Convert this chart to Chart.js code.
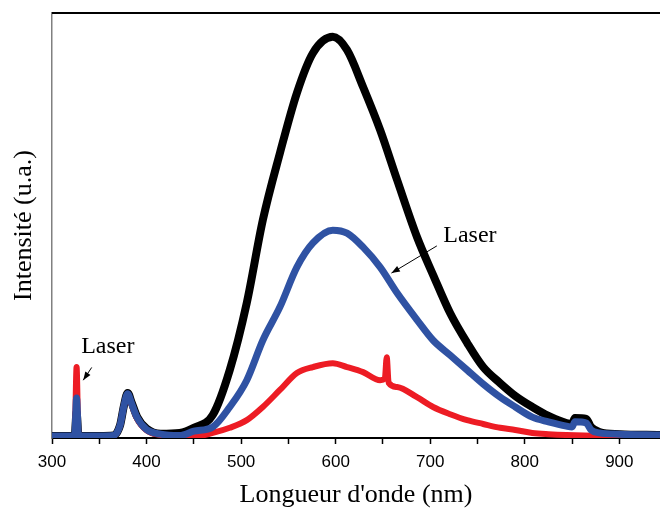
<!DOCTYPE html>
<html>
<head>
<meta charset="utf-8">
<script src="https://cdn.jsdelivr.net/npm/chart.js@4.4.0/dist/chart.umd.min.js"></script>
<style>
  html, body { margin: 0; padding: 0; background: #fff; }
  #wrap { width: 660px; height: 514px; position: relative; }
</style>
</head>
<body>
<div id="wrap"><canvas id="pl"></canvas></div>
<script>
// Spectra: wavelength (nm) / intensity (a.u.)
const blackNm  = [300, 322, 324, 326, 328, 350, 365, 372, 376, 380, 384, 390, 400, 415, 435, 450, 470, 488, 506, 523, 541, 559, 576, 597, 612, 629, 647, 665, 686, 703, 721, 739, 756, 774, 790, 808, 825, 844, 850, 853, 865, 870, 879, 900, 943];
const blackVal = [0.5, 0.5, 0.5, 6, 0.5, 0.5, 0.6, 3, 7.5, 10.6, 8.5, 5, 2.2, 1, 1.2, 2.4, 5.4, 16, 31.8, 51.3, 67, 81.2, 90.6, 94.4, 91.3, 82.6, 72.5, 60.7, 47.3, 38.4, 29.4, 22.4, 16.7, 12.9, 9.9, 7.3, 5.2, 3.5, 3.3, 4.7, 4.5, 2.6, 1.4, 0.9, 0.7];

const blueNm  = [300, 322, 324, 326, 328, 350, 365, 372, 376, 380, 384, 390, 400, 415, 435, 450, 470, 488, 506, 523, 541, 559, 576, 597, 612, 629, 647, 665, 686, 703, 721, 739, 756, 774, 790, 808, 825, 844, 850, 853, 865, 870, 879, 900, 943];
const blueVal = [0.5, 0.5, 0.5, 9.4, 0.5, 0.5, 0.6, 3, 7.5, 10.4, 8.2, 4.8, 2, 0.9, 0.6, 1.6, 2.6, 7.3, 13.6, 23, 30.8, 40.2, 45.9, 48.9, 48.2, 44.9, 40.2, 34.1, 27.8, 23, 19.5, 16, 12.7, 9.6, 7.3, 4.9, 3.8, 2.8, 2.6, 3.8, 3.5, 1.9, 1.2, 0.9, 0.7];

const redNm  = [300, 322, 324, 326, 328, 350, 365, 372, 376, 380, 384, 390, 400, 415, 435, 450, 470, 488, 506, 523, 541, 559, 576, 597, 612, 629, 647, 652, 654, 656, 665, 686, 703, 721, 739, 756, 774, 790, 808, 825, 844, 900, 943];
const redVal = [0.3, 0.3, 0.3, 16.7, 0.3, 0.3, 0.5, 3, 7.5, 10, 8, 4.5, 1.8, 0.7, 0.4, 0.3, 1.2, 2.4, 4.2, 7.3, 11.3, 15.3, 16.7, 17.6, 16.7, 15.5, 13.6, 14, 19, 13, 12, 9.6, 7.3, 5.6, 4.2, 3.3, 2.4, 1.9, 1.2, 0.9, 0.7, 0.5, 0.5];

const xTicks = [300, 400, 500, 600, 700, 800, 900];

// "Laser" notes: [text x, text y, arrow start x, y, arrow end x, y] in data units
const notes = [
    [359, 21.4, 342, 16.6, 333, 13.6],
    [742, 47.5, 707, 45.2, 659, 38.8]
];

const serif = '"Liberation Serif", "Times New Roman", serif';
const sans = '"Liberation Sans", Arial, sans-serif';

const pts = (xs, ys) => xs.map((x, i) => ({ x: x, y: ys[i] }));

// frame top line + annotations
const extras = {
    id: 'extras',
    afterDraw(chart) {
        const { ctx, chartArea: a, scales } = chart;
        ctx.save();
        ctx.strokeStyle = '#000';
        ctx.lineWidth = 2;
        ctx.beginPath();
        ctx.moveTo(a.left, a.top);
        ctx.lineTo(a.right, a.top);
        ctx.stroke();

        ctx.font = '24px ' + serif;
        ctx.fillStyle = '#000';
        ctx.textAlign = 'center';
        ctx.textBaseline = 'middle';
        notes.forEach(n => {
            const tx = scales.x.getPixelForValue(n[0]);
            const ty = scales.y.getPixelForValue(n[1]);
            ctx.fillText('Laser', tx, ty);
            const x0 = scales.x.getPixelForValue(n[2]), y0 = scales.y.getPixelForValue(n[3]);
            const x1 = scales.x.getPixelForValue(n[4]), y1 = scales.y.getPixelForValue(n[5]);
            ctx.lineWidth = 1;
            ctx.beginPath();
            ctx.moveTo(x0, y0);
            ctx.lineTo(x1, y1);
            ctx.stroke();
            const ang = Math.atan2(y1 - y0, x1 - x0);
            ctx.beginPath();
            ctx.moveTo(x1, y1);
            ctx.lineTo(x1 - 9 * Math.cos(ang - 0.35), y1 - 9 * Math.sin(ang - 0.35));
            ctx.lineTo(x1 - 9 * Math.cos(ang + 0.35), y1 - 9 * Math.sin(ang + 0.35));
            ctx.closePath();
            ctx.fill();
        });
        ctx.restore();
    }
};

new Chart(document.getElementById('pl'), {
    type: 'line',
    data: {
        datasets: [
            { label: 'blue', data: pts(blueNm, blueVal), borderColor: '#2f52a3', borderWidth: 7 },
            { label: 'red', data: pts(redNm, redVal), borderColor: '#ed1c24', borderWidth: 6 },
            { label: 'black', data: pts(blackNm, blackVal), borderColor: '#000000', borderWidth: 8 }
        ]
    },
    options: {
        responsive: true,
        maintainAspectRatio: false,
        animation: false,
        parsing: false,
        layout: { padding: { top: 13, right: 0, left: 0, bottom: 0 } },
        elements: {
            point: { radius: 0 },
            line: { cubicInterpolationMode: 'monotone', fill: false, borderJoinStyle: 'round' }
        },
        plugins: { legend: { display: false }, tooltip: { enabled: false } },
        scales: {
            x: {
                type: 'linear',
                min: 300,
                max: 943,
                afterFit: s => { s.height = 76; },
                afterBuildTicks: s => {
                    const t = [];
                    for (let v = 300; v <= 940; v += 50) t.push({ value: v });
                    s.ticks = t;
                },
                grid: { drawOnChartArea: false, tickLength: 6, tickColor: '#000', tickWidth: 1.5 },
                border: { color: '#000', width: 2 },
                ticks: {
                    color: '#000',
                    padding: 8,
                    maxRotation: 0,
                    autoSkip: false,
                    font: { family: sans, size: 17 },
                    callback: v => xTicks.includes(v) ? String(v) : ''
                },
                title: {
                    display: true,
                    text: "Longueur d'onde (nm)",
                    color: '#000',
                    font: { family: serif, size: 26 },
                    padding: { top: 0, bottom: 3 }
                }
            },
            y: {
                min: 0,
                max: 100,
                afterFit: s => { s.width = 52; },
                grid: { display: false },
                border: { color: '#808080', width: 1.5 },
                ticks: { display: false },
                title: {
                    display: true,
                    text: 'Intensité (u.a.)',
                    color: '#000',
                    font: { family: serif, size: 26 },
                    padding: { top: 9, bottom: 0 }
                }
            }
        }
    },
    plugins: [extras]
});
</script>
</body>
</html>
